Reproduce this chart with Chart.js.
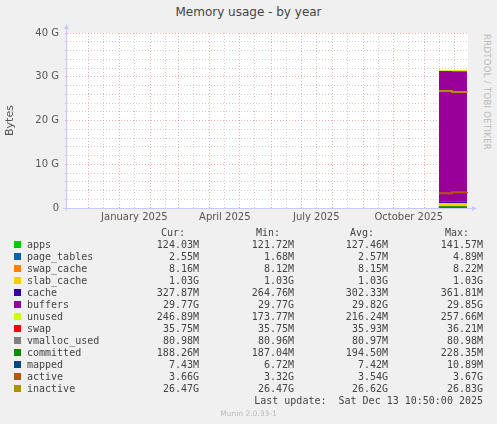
<!DOCTYPE html>
<html><head><meta charset="utf-8">
<script src="https://cdn.jsdelivr.net/npm/chart.js@4"></script>
<style>
body{margin:0;background:#f0f0f0;width:497px;height:424px;overflow:hidden;position:relative;font-family:"DejaVu Sans",sans-serif}
#t{position:absolute;top:5px;left:0;width:497px;text-align:center;font-size:12px;color:#444}
#r{position:absolute;left:482px;top:34px;writing-mode:vertical-rl;font-size:8.5px;color:#bbb;letter-spacing:0.3px}
#cw{position:absolute;left:0;top:0;width:497px;height:230px}
.row{position:absolute;left:0;height:12px;font-family:"DejaVu Sans Mono",monospace;font-size:10px;color:#444;white-space:pre}
.row span{position:absolute;top:0}
.sq{position:absolute;width:7px;height:7px;left:14px;top:2px}
</style></head><body>
<div id="t">Memory usage - by year</div>
<div id="r">RRDTOOL / TOBI OETIKER</div>
<div id="cw"><canvas id="c"></canvas></div>
<div id="leg"></div>
<script>
const G=1024*1024*1024, M=1024*1024;
// x = day offset from 2025-01-01
const days=[318,330,331,346];
const apps=[0.13,0.13,0.12,0.12];
const page_tables=[0.003,0.003,0.002,0.002];
const swap_cache=[0.008,0.008,0.008,0.008];
const slab_cache=[1.03,1.03,1.03,1.03];
const cache=[0.28,0.28,0.33,0.33];
const buffers=[29.85,29.85,29.77,29.77];
const unused=[0.2,0.2,0.25,0.25];
const swap=[0.036,0.036,0.036,0.036];
const committed=[0.19,0.19,0.19,0.19];
const mapped=[0.007,0.007,0.007,0.007];
const active=[3.35,3.35,3.62,3.66];
const inactive=[26.75,26.75,26.5,26.47];
const monthStarts=[-31,0,31,59,90,120,151,181,212,243,273,304,334];
const labelDays={15:'January 2025',105:'April 2025',196:'July 2025',288:'October 2025'};
const legendRows=[
['apps','#00cc00','124.03M','121.72M','127.46M','141.57M'],
['page_tables','#0066b3','2.55M','1.68M','2.57M','4.89M'],
['swap_cache','#ff8000','8.16M','8.12M','8.15M','8.22M'],
['slab_cache','#ffcc00','1.03G','1.03G','1.03G','1.03G'],
['cache','#330099','327.87M','264.76M','302.33M','361.81M'],
['buffers','#990099','29.77G','29.77G','29.82G','29.85G'],
['unused','#ccff00','246.89M','173.77M','216.24M','257.66M'],
['swap','#ff0000','35.75M','35.75M','35.93M','36.21M'],
['vmalloc_used','#808080','80.98M','80.96M','80.97M','80.98M'],
['committed','#008f00','188.26M','187.04M','194.50M','228.35M'],
['mapped','#00487d','7.43M','6.72M','7.42M','10.89M'],
['active','#b35a00','3.66G','3.32G','3.54G','3.67G'],
['inactive','#b38f00','26.47G','26.47G','26.62G','26.83G']];
const leg=document.getElementById('leg');
function mk(top,cells){const d=document.createElement('div');d.className='row';d.style.top=top+'px';d.style.width='497px';d.innerHTML=cells;leg.appendChild(d);}
mk(227,'<span style="right:312px">Cur:</span><span style="right:217px">Min:</span><span style="right:123px">Avg:</span><span style="right:28px">Max:</span>');
legendRows.forEach((r,i)=>{mk(239+i*12,`<div class="sq" style="background:${r[1]}"></div><span style="left:27px">${r[0]}</span><span style="right:298px">${r[2]}</span><span style="right:203px">${r[3]}</span><span style="right:109px">${r[4]}</span><span style="right:14px">${r[5]}</span>`);});
mk(395,'<span style="right:14px">Last update:  Sat Dec 13 10:50:00 2025</span>');
const mu=document.createElement('div');mu.style.cssText='position:absolute;top:409px;left:0;width:497px;text-align:center;font-size:7.5px;color:#bbb';mu.textContent='Munin 2.0.33-1';leg.appendChild(mu);

const pts=a=>days.map((d,i)=>({x:d,y:a[i]*G}));
const stackSets=[['apps',apps,'#00cc00'],['page_tables',page_tables,'#0066b3'],['swap_cache',swap_cache,'#ff8000'],['slab_cache',slab_cache,'#ffcc00'],['cache',cache,'#330099'],['buffers',buffers,'#990099'],['unused',unused,'#ccff00'],['swap',swap,'#ff0000']];
const ds=stackSets.map((s,i)=>({label:s[0],data:pts(s[1]),backgroundColor:s[2],borderColor:s[2],borderWidth:0,fill:i===0?'origin':'-1',stack:'mem',pointRadius:0,stepped:true,order:2}));
[['committed',committed,'#008f00'],['mapped',mapped,'#00487d'],['active',active,'#b35a00'],['inactive',inactive,'#b38f00']].forEach((s,i)=>ds.push({label:s[0],data:pts(s[1]),borderColor:s[2],borderWidth:2,fill:false,stack:'l'+i,pointRadius:0,stepped:true,order:1}));
const bg={id:'bg',beforeDraw(c){const a=c.chartArea,x=c.ctx;x.save();x.fillStyle='#fff';x.fillRect(a.left,a.top,a.right-a.left,a.bottom-a.top);x.restore();},
afterDraw(c){const a=c.chartArea,x=c.ctx;x.save();x.strokeStyle='#c8c8ff';x.lineWidth=1;x.beginPath();x.moveTo(a.left-0.5,a.bottom+3);x.lineTo(a.left-0.5,a.top-6);x.moveTo(a.left-4,a.bottom+0.5);x.lineTo(a.right+6,a.bottom+0.5);x.stroke();
x.fillStyle='#c8c8ff';x.beginPath();x.moveTo(a.left-3,a.top-4);x.lineTo(a.left+2,a.top-4);x.lineTo(a.left-0.5,a.top-9);x.fill();
x.beginPath();x.moveTo(a.right+4,a.bottom-2);x.lineTo(a.right+4,a.bottom+3);x.lineTo(a.right+9,a.bottom+0.5);x.fill();x.restore();}};
const xticks=[];monthStarts.forEach(m=>{xticks.push(m);xticks.push(m+15);});
new Chart(document.getElementById('c'),{type:'line',data:{datasets:ds},plugins:[bg],
options:{responsive:true,maintainAspectRatio:false,animation:false,
layout:{padding:{top:33,right:29,left:0,bottom:0}},
plugins:{legend:{display:false},tooltip:{enabled:false}},
scales:{
x:{type:'linear',min:-52,max:347,
afterBuildTicks:s=>{s.ticks=xticks.filter(v=>v>=-52&&v<=347).map(v=>({value:v}));},
afterFit:s=>{s.height=22;},
ticks:{autoSkip:false,maxRotation:0,padding:3,color:'#555',font:{family:'DejaVu Sans',size:10},callback:v=>labelDays[v]||''},
grid:{color:c=>monthStarts.includes(c.tick&&c.tick.value)?'rgba(240,120,120,0.6)':'rgba(190,190,190,0.7)',lineWidth:1,drawTicks:false,tickLength:0},
border:{display:false,dash:[1,2]}},
y:{stacked:true,min:0,max:40*G,
afterBuildTicks:s=>{const t=[];for(let i=0;i<=40;i+=2)t.push({value:i*G});s.ticks=t;},
afterFit:s=>{s.width=67;},
ticks:{autoSkip:false,color:'#555',font:{family:'DejaVu Sans',size:10},padding:6,callback:v=>{const g=Math.round(v/G);return g%10===0?(g===0?'0':g+' G'):'';}},
title:{display:true,text:'Bytes',color:'#555',font:{family:'DejaVu Sans',size:11},padding:{top:4,bottom:10}},
grid:{color:c=>(Math.round(c.tick.value/G)%10===0)?'rgba(240,120,120,0.6)':'rgba(190,190,190,0.7)',drawTicks:true,tickLength:2},
border:{display:false,dash:[1,2]}}
}}});
</script></body></html>
